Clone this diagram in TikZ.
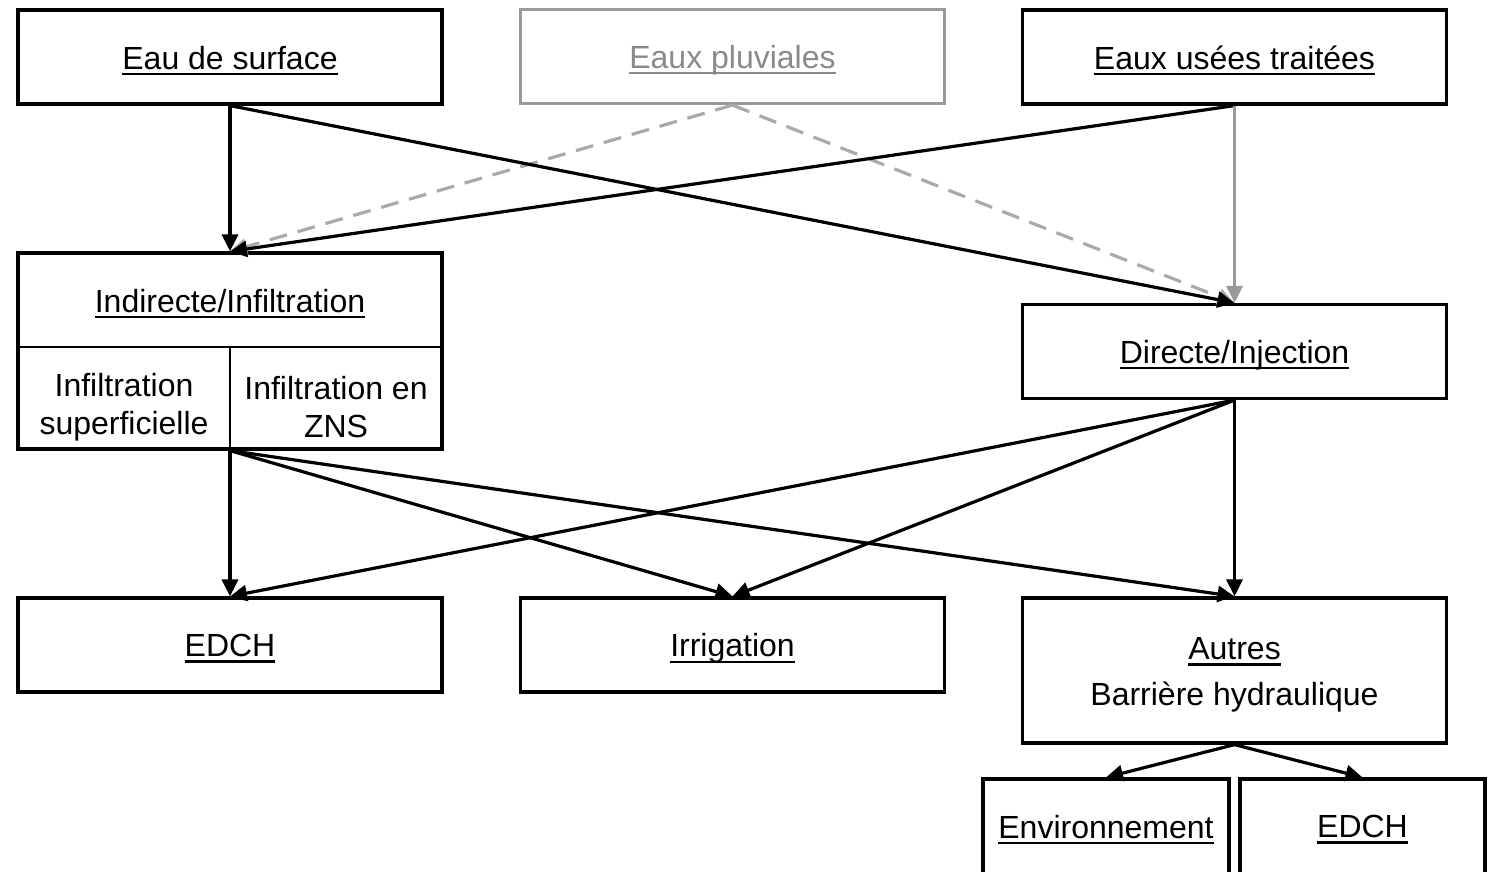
\documentclass[tikz,border=0pt]{standalone}
\usepackage{fontspec}
\setmainfont{Liberation Sans}
\usetikzlibrary{arrows.meta}
\definecolor{boxgray}{HTML}{9A9A9A}
\definecolor{txtgray}{HTML}{8A8A8A}
\definecolor{dashgray}{HTML}{AAAAAA}
\definecolor{arrgray}{HTML}{999999}
\newcommand\myul[1]{\setbox0\hbox{#1}\rlap{\rule[-0.19em]{\wd0}{0.07em}}\box0}
\newcommand\bx[1]{\raisebox{-3.5pt}[\height][\depth]{#1}}
\begin{document}
\begin{tikzpicture}[x=1pt,y=-1pt,
  box/.style={draw=black,line width=3.2pt,minimum width=424pt,minimum height=94pt,inner sep=0pt,
    font=\fontsize{32}{38}\selectfont,align=center},
  graybox/.style={box,draw=boxgray,text=txtgray},
  txt/.style={inner sep=0pt,font=\fontsize{32}{38}\selectfont,align=center},
  arr/.style={line width=3.2pt,-{Triangle[length=17pt,width=16pt]}},
  garr/.style={arr,draw=arrgray,-{Triangle[length=17pt,width=16pt,fill=arrgray]}},
  darr/.style={arr,draw=dashgray,dash pattern=on 18pt off 11pt,-{Triangle[length=17pt,width=16pt,fill=dashgray]}}
]
\useasboundingbox (0,0) rectangle (1494,872);
\clip (0,0) rectangle (1494,872);
% top row
\node[box] (esurf) at (230,57) {\bx{\myul{Eau de surface}}};
\node[graybox] (epluv) at (732.5,56.5) {\bx{\myul{Eaux pluviales}}};
\node[box] (eusees) at (1234.5,57) {\bx{\myul{Eaux usées traitées}}};
% indirect box
\node[box,minimum height=196pt] (indirect) at (230,351) {};
\draw[line width=2.8pt] (18,347) -- (442,347);
\draw[line width=2.8pt] (230,347) -- (230,449);
\node[txt] (indtitle) at (230,303.5) {\myul{Indirecte/Infiltration}};
\node[txt] (infsup) at (124,407.5) {Infiltration\\superficielle};
\node[txt] (infzns) at (336,407.5) {Infiltration en\\ZNS};
% direct
\node[box] (direct) at (1234.5,351.5) {\bx{\myul{Directe/Injection}}};
% uses
\node[box] (edch) at (230,645) {\bx{\myul{EDCH}}};
\node[box] (irrig) at (732.5,645) {\bx{\myul{Irrigation}}};
\node[box,minimum height=145pt] (autres) at (1234.5,670.5) {};
\node[txt] (autrestitle) at (1234.5,651.5) {\myul{Autres}};
\node[txt] (barriere) at (1234.5,697.5) {Barrière hydraulique};
\node[box,minimum width=246pt,minimum height=140pt] (envir) at (1106,849) {};
\node[txt] (envirtxt) at (1106,829.5) {\myul{Environnement}};
\node[box,minimum width=245pt,minimum height=140pt] (edchb) at (1362.5,849) {};
\node[txt] (edchbtxt) at (1362.5,829.5) {\myul{EDCH}};
% connectors
\draw[darr] (epluv.south) -- (indirect.north);
\draw[darr] (epluv.south) -- (direct.north);
\draw[arr] (esurf.south) -- (indirect.north);
\draw[arr] (esurf.south) -- (direct.north);
\draw[arr] (eusees.south) -- (indirect.north);
\draw[garr] (eusees.south) -- (direct.north);
\draw[arr] (indirect.south) -- (edch.north);
\draw[arr] (indirect.south) -- (irrig.north);
\draw[arr] (indirect.south) -- (autres.north);
\draw[arr] (direct.south) -- (edch.north);
\draw[arr] (direct.south) -- (irrig.north);
\draw[arr] (direct.south) -- (autres.north);
\draw[arr] (autres.south) -- (envir.north);
\draw[arr] (autres.south) -- (edchb.north);
\end{tikzpicture}
\end{document}
